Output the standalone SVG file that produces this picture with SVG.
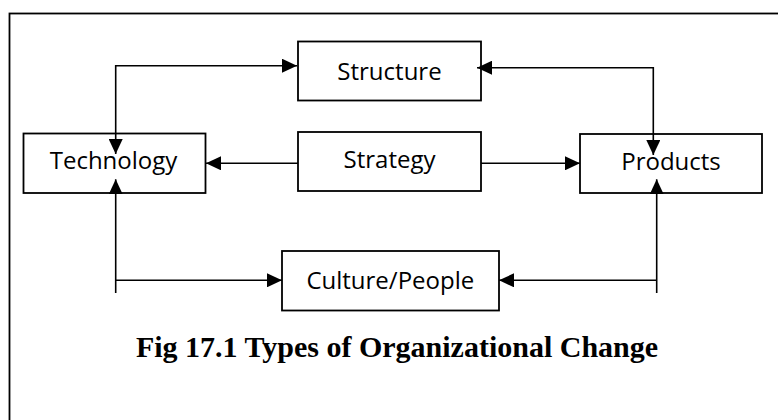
<svg xmlns="http://www.w3.org/2000/svg" width="778" height="420" viewBox="0 0 778 420">
<style>
.box{fill:#fff;stroke:#000;stroke-width:1.8}
.lbl{font-family:"Open Sans","Liberation Sans",sans-serif;font-size:24px;fill:#000;text-anchor:middle}
.ln{fill:none;stroke:#000;stroke-width:1.6}
.cap{font-family:"Liberation Serif","Times New Roman",serif;font-weight:bold;font-size:30px;fill:#000;text-anchor:middle}
</style>
<defs>
<marker id="ah" markerUnits="userSpaceOnUse" markerWidth="16" markerHeight="14" refX="15" refY="7" orient="auto-start-reverse" viewBox="0 0 16 14">
<path d="M0,0 L15,7 L0,14 z" fill="#000"/>
</marker>
</defs>
<rect x="9.5" y="13.5" width="800" height="500" fill="none" stroke="#000" stroke-width="1.8"/>
<g id="structure"><rect class="box" x="298" y="41.5" width="183" height="59"/><text class="lbl" x="389.5" y="79.5">Structure</text></g>
<g id="strategy"><rect class="box" x="298" y="132" width="183" height="59"/><text class="lbl" x="389.5" y="167.5">Strategy</text></g>
<g id="technology"><rect class="box" x="23.5" y="133.5" width="182" height="59.5"/><text class="lbl" x="113.5" y="168.5">Technology</text></g>
<g id="products"><rect class="box" x="580" y="134" width="182" height="59"/><text class="lbl" x="671" y="169.5">Products</text></g>
<g id="culture"><rect class="box" x="282" y="251" width="217" height="59.5"/><text class="lbl" x="390.3" y="288.5">Culture/People</text></g>
<g id="connectors">
<path class="ln" d="M297,65.7 H115.7 V154" marker-start="url(#ah)" marker-end="url(#ah)"/>
<path class="ln" d="M477,67.7 H653.3 V155" marker-start="url(#ah)" marker-end="url(#ah)"/>
<path class="ln" d="M298,163.3 H206" marker-end="url(#ah)"/>
<path class="ln" d="M481,163.3 H580" marker-end="url(#ah)"/>
<path class="ln" d="M115.7,293 V179.3" marker-end="url(#ah)"/>
<path class="ln" d="M115.7,280.3 H282" marker-end="url(#ah)"/>
<path class="ln" d="M656.7,293 V179.3" marker-end="url(#ah)"/>
<path class="ln" d="M656.7,280.3 H499" marker-end="url(#ah)"/>
</g>
<text class="cap" x="397" y="356.7">Fig 17.1 Types of Organizational Change</text>
</svg>
